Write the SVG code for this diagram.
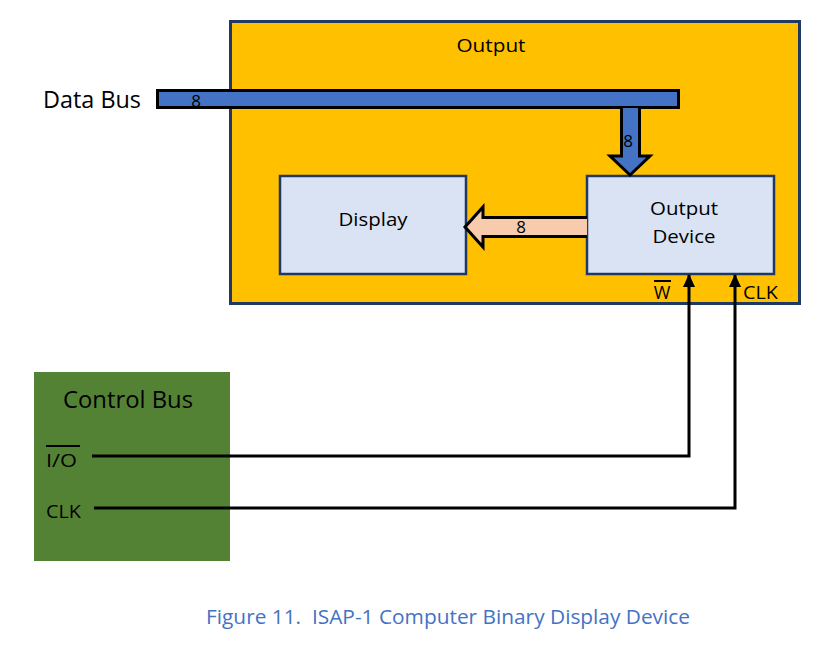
<svg xmlns="http://www.w3.org/2000/svg" width="836" height="651" viewBox="0 0 836 651">
<style>
text{font-family:"Open Sans","Liberation Sans",sans-serif;fill:#000}
.box{fill:#dae3f3;stroke:#1f3864;stroke-width:2.5}
.wire{fill:none;stroke:#000;stroke-width:3}
</style>
<defs>
<marker id="ah" markerWidth="13" markerHeight="12" refX="12" refY="6" orient="auto" markerUnits="userSpaceOnUse" viewBox="0 0 13 12">
<path d="M0,0 L13,6 L0,12 Z" fill="#000"/>
</marker>
</defs>
<rect width="836" height="651" fill="#fff"/>
<g id="output">
<rect x="230.5" y="21.5" width="569" height="282" fill="#ffc000" stroke="#1f3864" stroke-width="3"/>
<text x="491" y="52" font-size="19" text-anchor="middle" textLength="69" lengthAdjust="spacingAndGlyphs">Output</text>
</g>
<g id="data-bus">
<text x="43" y="108" font-size="23" textLength="98" lengthAdjust="spacingAndGlyphs">Data Bus</text>
<rect x="157.5" y="90.5" width="521" height="17" fill="#4472c4" stroke="#000" stroke-width="3"/>
<text x="196" y="107" font-size="17" text-anchor="middle">8</text>
</g>
<g id="display">
<rect class="box" x="280" y="176" width="186" height="98"/>
<text x="373" y="226" font-size="19" text-anchor="middle" textLength="69" lengthAdjust="spacingAndGlyphs">Display</text>
</g>
<g id="output-device">
<rect class="box" x="587" y="176" width="187" height="98"/>
<text x="684" y="215" font-size="19" text-anchor="middle" textLength="68" lengthAdjust="spacingAndGlyphs">Output</text>
<text x="684" y="243" font-size="19" text-anchor="middle" textLength="63" lengthAdjust="spacingAndGlyphs">Device</text>
<text x="662" y="299" font-size="18" text-anchor="middle">W</text>
<line x1="654" y1="281" x2="671" y2="281" stroke="#000" stroke-width="2"/>
<text x="743" y="299" font-size="18" textLength="35" lengthAdjust="spacingAndGlyphs">CLK</text>
</g>
<g id="control-bus">
<rect x="34" y="372" width="196" height="189" fill="#548235"/>
<text x="128" y="408" font-size="23" text-anchor="middle" textLength="130" lengthAdjust="spacingAndGlyphs">Control Bus</text>
<text x="46" y="467" font-size="19" textLength="31" lengthAdjust="spacingAndGlyphs">I/O</text>
<line x1="46" y1="446" x2="80" y2="446" stroke="#000" stroke-width="2"/>
<text x="46" y="518" font-size="19" textLength="35" lengthAdjust="spacingAndGlyphs">CLK</text>
</g>
<g id="connectors">
<path d="M621.5,108 V156 H610 L630,175 L650,156 H639.5 V108" fill="#4472c4" stroke="#000" stroke-width="3" stroke-linejoin="miter"/>
<text x="628" y="147" font-size="17" text-anchor="middle">8</text>
<path d="M587,217.5 H483 V207 L465,227 L483,247 V236.5 H587" fill="#f8cbad" stroke="#000" stroke-width="3"/>
<text x="521" y="233" font-size="17" text-anchor="middle">8</text>
<path class="wire" d="M92,456 H689 V275" marker-end="url(#ah)"/>
<path class="wire" d="M94,508 H735 V275" marker-end="url(#ah)"/>
</g>
<text x="448" y="624" font-size="20" text-anchor="middle" style="fill:#4472c4" textLength="484" lengthAdjust="spacingAndGlyphs" xml:space="preserve">Figure 11.  ISAP-1 Computer Binary Display Device</text>
</svg>
